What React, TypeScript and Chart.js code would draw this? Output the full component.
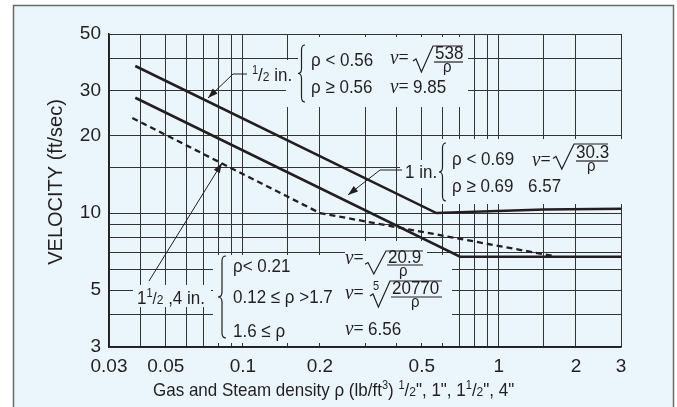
import React, { useEffect, useRef } from "react";
import { Chart, registerables } from "chart.js";

Chart.register(...registerables);

// ---- data ----
const halfInRho = [0.038, 0.57, 1.5, 3];
const halfInVel = [37.5, 10.0, 10.33, 10.4];
const oneInRho = [0.038, 0.705, 3];
const oneInVel = [28.2, 6.75, 6.75];
const bigRho = [0.037, 0.2, 1.63];
const bigVel = [23.5, 10.0, 6.8];

const xGridValues = [0.03, 0.04, 0.05, 0.06, 0.07, 0.08, 0.09, 0.1, 0.15, 0.2, 0.3, 0.4, 0.5, 0.6, 0.7, 0.8, 0.9, 1, 1.5, 2, 3];
const xTickLabels = [0.03, 0.05, 0.1, 0.2, 0.5, 1, 2, 3];
const yGridValues = [3, 4, 5, 6, 7, 8, 9, 10, 15, 20, 30, 40, 50];
const yTickLabels = [3, 5, 10, 20, 30, 50];

const yTitle = "VELOCITY (ft/sec)";
const xTitleMain = "Gas and Steam density ρ (lb/ft";

const BG = "#EAF5FC";
const INK = "#231f20";
const GRID = "#333333";
const SANS = '"Liberation Sans", Arial, Helvetica, sans-serif';
const SERIF = '"Liberation Serif", "Times New Roman", serif';
const STRETCH = 1.12;

type Seg = { t: string; size?: number; dy?: number; serif?: boolean; italic?: boolean };

function rich(ctx: CanvasRenderingContext2D, x: number, y: number, segs: Seg[], base = 17) {
  let cx = 0;
  ctx.save();
  ctx.translate(x, y);
  ctx.scale(1, STRETCH);
  ctx.textAlign = "left";
  ctx.textBaseline = "alphabetic";
  for (const s of segs) {
    const size = s.size ?? base;
    ctx.font = `${s.italic ? "italic " : ""}${size}px ${s.serif ? SERIF : SANS}`;
    ctx.fillText(s.t, cx, (s.dy ?? 0) / STRETCH);
    cx += ctx.measureText(s.t).width;
  }
  ctx.restore();
  return x + cx;
}

function cover(ctx: CanvasRenderingContext2D, x0: number, y0: number, x1: number, y1: number) {
  ctx.fillStyle = BG;
  ctx.fillRect(x0, y0, x1 - x0, y1 - y0);
}

function brace(ctx: CanvasRenderingContext2D, x: number, yTop: number, yBot: number, w: number) {
  const yMid = (yTop + yBot) / 2;
  const m = x + w / 2;
  const r = Math.min(w, 5);
  ctx.beginPath();
  ctx.moveTo(x + w, yTop);
  ctx.quadraticCurveTo(m, yTop, m, yTop + r);
  ctx.lineTo(m, yMid - r);
  ctx.quadraticCurveTo(m, yMid, x, yMid);
  ctx.quadraticCurveTo(m, yMid, m, yMid + r);
  ctx.lineTo(m, yBot - r);
  ctx.quadraticCurveTo(m, yBot, x + w, yBot);
  ctx.stroke();
}

function radical(ctx: CanvasRenderingContext2D, x0: number, x1: number, yTop: number, yBot: number, xEnd: number) {
  const h = yBot - yTop;
  ctx.beginPath();
  ctx.moveTo(x0, yBot - h * 0.42);
  ctx.lineTo(x0 + 3, yBot - h * 0.5);
  ctx.lineTo(x0 + (x1 - x0) * 0.42, yBot);
  ctx.lineTo(x1, yTop);
  ctx.lineTo(xEnd, yTop);
  ctx.stroke();
}

function hbar(ctx: CanvasRenderingContext2D, x0: number, x1: number, y: number) {
  ctx.beginPath();
  ctx.moveTo(x0, y);
  ctx.lineTo(x1, y);
  ctx.stroke();
}

function arrow(ctx: CanvasRenderingContext2D, pts: [number, number][]) {
  ctx.beginPath();
  ctx.moveTo(pts[0][0], pts[0][1]);
  for (let i = 1; i < pts.length; i++) ctx.lineTo(pts[i][0], pts[i][1]);
  ctx.stroke();
  const [x1, y1] = pts[pts.length - 2];
  const [x2, y2] = pts[pts.length - 1];
  const a = Math.atan2(y2 - y1, x2 - x1);
  const L = 10, W = 3.5;
  const c = Math.cos(a), s = Math.sin(a);
  ctx.beginPath();
  ctx.moveTo(x2, y2);
  ctx.lineTo(x2 - L * c + W * s, y2 - L * s - W * c);
  ctx.lineTo(x2 - L * c - W * s, y2 - L * s + W * c);
  ctx.closePath();
  ctx.fill();
}

const backgroundPlugin = {
  id: "bgbox",
  beforeDraw(chart: any) {
    const ctx = chart.ctx as CanvasRenderingContext2D;
    ctx.save();
    ctx.fillStyle = "#ffffff";
    ctx.fillRect(0, 0, chart.width, chart.height);
    ctx.fillStyle = BG;
    ctx.fillRect(13, 5, 661, 420);
    ctx.strokeStyle = "#6a6a6a";
    ctx.lineWidth = 1.5;
    ctx.strokeRect(13.5, 5.5, 660, 420);
    ctx.restore();
  },
};

const annotationPlugin = {
  id: "annot",
  beforeDatasetsDraw(chart: any) {
    const ctx = chart.ctx as CanvasRenderingContext2D;
    ctx.save();
    // box "1/2 in."
    cover(ctx, 298, 37, 468, 107);
    cover(ctx, 286, 60, 298, 107);
    cover(ctx, 245, 62, 298, 88);
    // box "1 in."
    cover(ctx, 437, 139, 624, 204);
    cover(ctx, 400, 160, 437, 188);
    // box "1 1/2, 4 in."
    cover(ctx, 213, 255, 452, 343);
    cover(ctx, 345, 241, 427, 255);
    cover(ctx, 133, 285, 211, 307);
    ctx.restore();
  },
  afterDatasetsDraw(chart: any) {
    const ctx = chart.ctx as CanvasRenderingContext2D;
    ctx.save();
    ctx.fillStyle = INK;
    ctx.strokeStyle = INK;

    // ---- 1/2 in. ----
    rich(ctx, 252, 81, [{ t: "1", size: 11, dy: -7 }, { t: "/" }, { t: "2", size: 12 }, { t: " in." }]);
    ctx.lineWidth = 1.2;
    brace(ctx, 298, 45, 102, 7);
    rich(ctx, 311, 66, [{ t: "ρ < 0.56" }]);
    rich(ctx, 311, 93, [{ t: "ρ ≥ 0.56" }]);
    rich(ctx, 390, 64, [{ t: "ν", serif: true, italic: true, size: 19 }, { t: "=", serif: true, size: 18 }]);
    ctx.lineWidth = 1.2;
    radical(ctx, 413, 433, 46, 72, 463);
    rich(ctx, 435, 59, [{ t: "538" }]);
    hbar(ctx, 434, 463, 62);
    rich(ctx, 443, 72, [{ t: "ρ", size: 15 }]);
    rich(ctx, 390, 93, [{ t: "ν", serif: true, italic: true, size: 19 }, { t: "= ", serif: true, size: 18 }, { t: "9.85" }]);

    // ---- 1 in. ----
    rich(ctx, 405, 178, [{ t: "1 in." }]);
    ctx.lineWidth = 1.2;
    brace(ctx, 439, 143, 201, 7);
    rich(ctx, 452, 165, [{ t: "ρ < 0.69" }]);
    rich(ctx, 452, 192, [{ t: "ρ ≥ 0.69" }]);
    rich(ctx, 532, 166, [{ t: "ν", serif: true, italic: true, size: 19 }, { t: "=", serif: true, size: 18 }]);
    radical(ctx, 553, 574, 144, 169, 608);
    rich(ctx, 576, 158, [{ t: "30.3" }]);
    hbar(ctx, 576, 608, 161);
    rich(ctx, 587, 171, [{ t: "ρ", size: 15 }]);
    rich(ctx, 528, 192, [{ t: "6.57" }]);

    // ---- 1 1/2, 4 in. ----
    rich(ctx, 137, 304, [{ t: "1" }, { t: "1", size: 11, dy: -7 }, { t: "/", size: 15 }, { t: "2", size: 12 }, { t: " ,4 in." }]);
    ctx.lineWidth = 1.2;
    brace(ctx, 218, 256, 338, 8);
    rich(ctx, 233, 272, [{ t: "ρ< 0.21" }]);
    rich(ctx, 233, 303, [{ t: "0.12 ≤ ρ >1.7" }]);
    rich(ctx, 233, 337, [{ t: "1.6 ≤ ρ" }]);
    rich(ctx, 345, 264, [{ t: "ν", serif: true, italic: true, size: 19 }, { t: "=", serif: true, size: 18 }]);
    radical(ctx, 365, 386, 251, 274, 423);
    rich(ctx, 388, 263, [{ t: "20.9" }]);
    hbar(ctx, 387, 423, 265);
    rich(ctx, 399, 276, [{ t: "ρ", size: 15 }]);
    rich(ctx, 345, 299, [{ t: "ν", serif: true, italic: true, size: 19 }, { t: "=", serif: true, size: 18 }]);
    rich(ctx, 373, 290, [{ t: "5", size: 11 }]);
    radical(ctx, 370, 390, 281, 307, 442);
    rich(ctx, 392, 294, [{ t: "20770" }]);
    hbar(ctx, 391, 442, 297);
    rich(ctx, 411, 307, [{ t: "ρ", size: 15 }]);
    rich(ctx, 345, 335, [{ t: "ν", serif: true, italic: true, size: 19 }, { t: "= ", serif: true, size: 18 }, { t: "6.56" }]);

    // ---- leaders ----
    ctx.lineWidth = 1;
    arrow(ctx, [[247, 74], [233, 74], [208, 98]]);
    arrow(ctx, [[402, 170], [380, 170], [348, 195]]);
    arrow(ctx, [[149, 281], [222, 163]]);

    // ---- axis titles ----
    ctx.save();
    ctx.translate(56, 182);
    ctx.rotate(-Math.PI / 2);
    ctx.font = `20px ${SANS}`;
    ctx.textAlign = "center";
    ctx.textBaseline = "middle";
    ctx.fillText(yTitle, 0, 0);
    ctx.restore();

    rich(ctx, 153, 396, [
      { t: xTitleMain },
      { t: "3", size: 11, dy: -7 },
      { t: ") " },
      { t: "1", size: 11, dy: -7 },
      { t: "/" },
      { t: "2", size: 12 },
      { t: "\", 1\", 1" },
      { t: "1", size: 11, dy: -7 },
      { t: "/" },
      { t: "2", size: 12 },
      { t: "\", 4\"" },
    ], 17);
    ctx.restore();
  },
};

export default function App() {
  const ref = useRef<HTMLCanvasElement>(null);
  useEffect(() => {
    document.body.style.margin = "0";
    const canvas = ref.current!;
    const pts = (xs: number[], ys: number[]) => xs.map((x, i) => ({ x, y: ys[i] }));
    const chart = new Chart(canvas, {
      type: "line",
      data: {
        datasets: [
          { label: "1/2 in.", data: pts(halfInRho, halfInVel), borderColor: INK, borderWidth: 2.6, pointRadius: 0, fill: false, tension: 0 },
          { label: "1 in.", data: pts(oneInRho, oneInVel), borderColor: INK, borderWidth: 2.6, pointRadius: 0, fill: false, tension: 0 },
          { label: "1 1/2, 4 in.", data: pts(bigRho, bigVel), borderColor: INK, borderWidth: 2.3, borderDash: [6, 4], pointRadius: 0, fill: false, tension: 0 },
        ],
      },
      options: {
        responsive: false,
        animation: false,
        devicePixelRatio: 1,
        layout: { padding: { left: 0, top: 34, right: 56, bottom: 0 } },
        plugins: { legend: { display: false }, tooltip: { enabled: false } },
        scales: {
          x: {
            type: "logarithmic",
            min: 0.03,
            max: 3,
            afterBuildTicks: (s: any) => { s.ticks = xGridValues.map((v) => ({ value: v })); },
            afterFit: (s: any) => { s.height = 60; },
            ticks: {
              autoSkip: false,
              maxRotation: 0,
              padding: 8,
              color: INK,
              font: { family: SANS, size: 19 },
              callback: (v: any) => (xTickLabels.includes(Number(v)) ? String(v) : ""),
            },
            grid: { color: GRID, lineWidth: 1, drawTicks: false },
            border: { color: INK, width: 1.5 },
          },
          y: {
            type: "logarithmic",
            min: 3,
            max: 50,
            afterBuildTicks: (s: any) => { s.ticks = yGridValues.map((v) => ({ value: v })); },
            afterFit: (s: any) => { s.width = 109; },
            ticks: {
              autoSkip: false,
              padding: 8,
              color: INK,
              font: { family: SANS, size: 19 },
              callback: (v: any) => (yTickLabels.includes(Number(v)) ? String(v) : ""),
            },
            grid: { color: GRID, lineWidth: 1, drawTicks: false },
            border: { color: INK, width: 1.5 },
          },
        },
      },
      plugins: [backgroundPlugin, annotationPlugin],
    } as any);
    return () => chart.destroy();
  }, []);
  return <canvas ref={ref} width={677} height={407} style={{ display: "block", width: 677, height: 407 }} />;
}
